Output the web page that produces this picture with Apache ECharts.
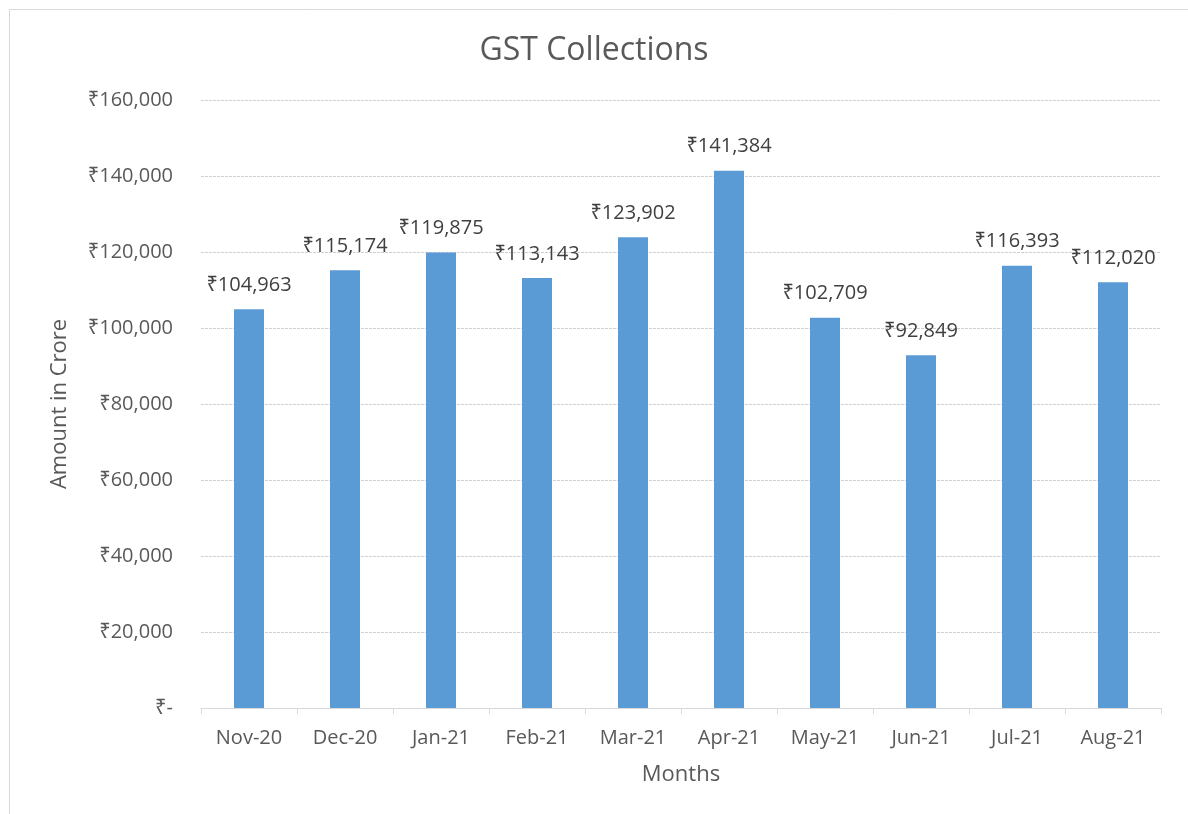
<!DOCTYPE html>
<html>
<head>
<meta charset="utf-8">
<script src="https://cdn.jsdelivr.net/npm/echarts@6/dist/echarts.min.js"></script>
<style>html,body{margin:0;padding:0;background:#fff}#c{width:1188px;height:814px}</style>
</head>
<body>
<div id="c"></div>
<script>
const categories = ['Nov-20','Dec-20','Jan-21','Feb-21','Mar-21','Apr-21','May-21','Jun-21','Jul-21','Aug-21'];
const collections = [104963,115174,119875,113143,123902,141384,102709,92849,116393,112020];
const titleText = 'GST Collections';
const yAxisName = 'Amount in Crore';
const xAxisName = 'Months';

function fmtRupee(v){
  if (v === 0) return '₹-';
  return '₹' + v.toLocaleString('en-US');
}
const FONT = '"Open Sans", "Noto Sans", "DejaVu Sans", sans-serif';
const chart = echarts.init(document.getElementById('c'));
chart.setOption({
  animation: false,
  backgroundColor: '#ffffff',
  textStyle: { fontFamily: FONT },
  title: {
    text: titleText, left: 'center', top: 30,
    textStyle: { fontSize: 32, fontWeight: 'normal', color: '#595959', fontFamily: FONT }
  },
  graphic: [{
    type: 'rect', left: 7, top: 7, silent: true,
    shape: { width: 1179, height: 810 },
    style: { fill: 'none', stroke: '#d9d9d9', lineWidth: 1 }
  }],
  grid: { left: 201, right: 27, top: 100, bottom: 106, containLabel: false },
  xAxis: {
    type: 'category', data: categories,
    name: xAxisName, nameLocation: 'middle', nameGap: 56,
    nameTextStyle: { fontSize: 22, color: '#595959', fontFamily: FONT },
    axisLine: { show: true, lineStyle: { color: '#d9d9d9' } },
    axisTick: { show: true, alignWithLabel: false, length: 6, lineStyle: { color: '#d9d9d9' } },
    axisLabel: { fontSize: 20, color: '#595959', margin: 20, fontFamily: FONT }
  },
  yAxis: {
    type: 'value', min: 0, max: 160000, interval: 20000,
    name: yAxisName, nameLocation: 'middle', nameGap: 130, nameRotate: 90,
    nameTextStyle: { fontSize: 22, color: '#595959', fontFamily: FONT },
    axisLine: { show: false }, axisTick: { show: false },
    axisLabel: { fontSize: 20, color: '#595959', margin: 28, formatter: fmtRupee, fontFamily: FONT },
    splitLine: { show: true, lineStyle: { color: '#d0d0d0', type: [3, 1], width: 1 } }
  },
  series: [{
    type: 'bar', data: collections, barWidth: 30,
    itemStyle: { color: '#5b9bd5' },
    label: {
      show: true, position: 'top', distance: 14,
      fontSize: 20, color: '#404040', fontFamily: FONT,
      formatter: p => fmtRupee(p.value)
    }
  }]
});
</script>
</body>
</html>
